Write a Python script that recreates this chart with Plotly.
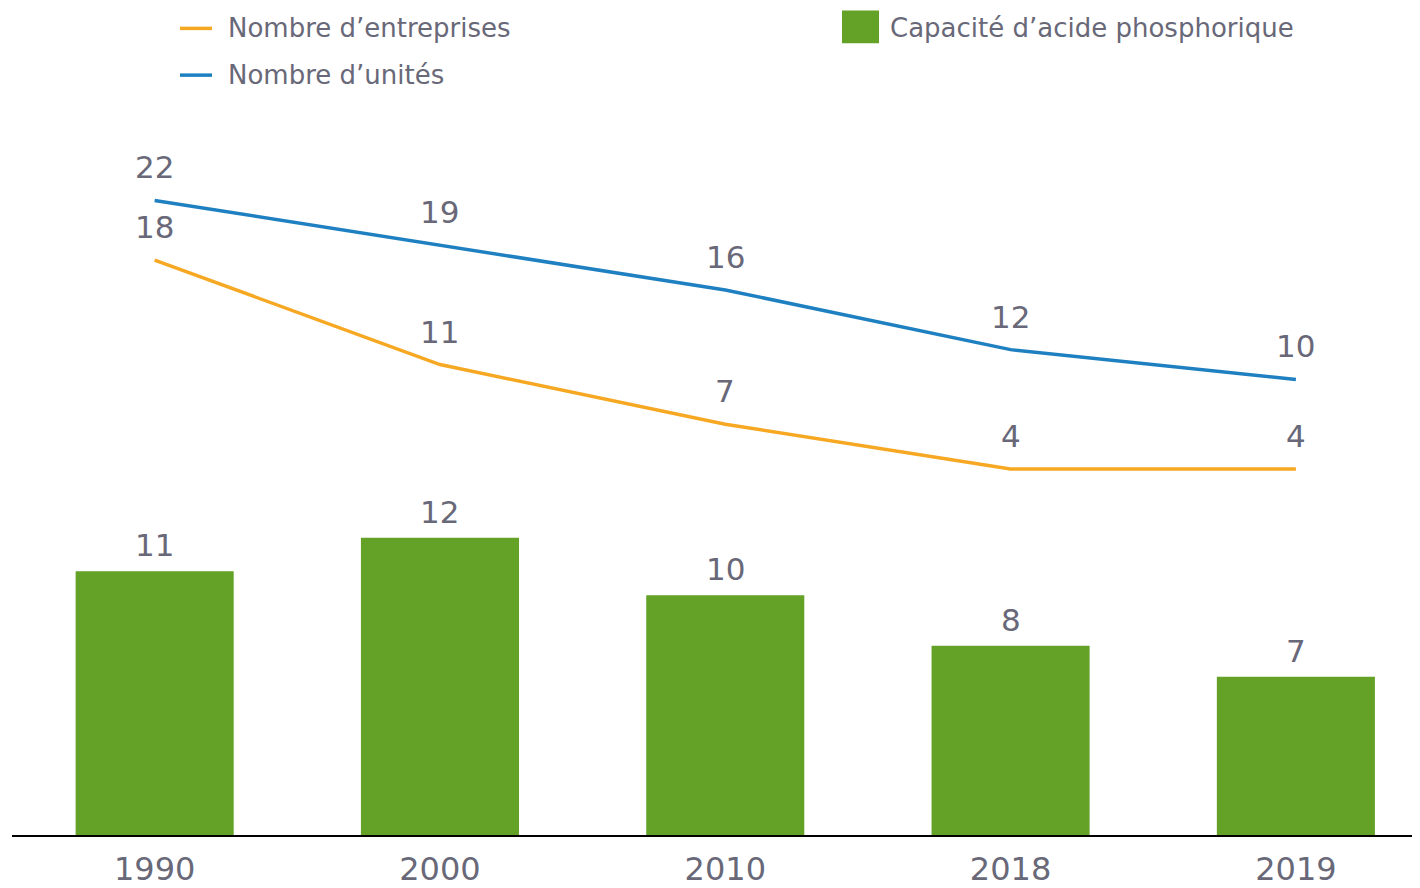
import plotly.graph_objects as go

years = ["1990", "2000", "2010", "2018", "2019"]
capacite = [11.0, 12.4, 10.0, 7.9, 6.6]
entreprises = [18, 11, 7, 4, 4]
unites = [22, 19, 16, 12, 10]

OFF = 8  # default page body margin
W, H = 1412, 880
ML, MR, MT, MB = 4, 0, 92, 49
PW, PH = W - ML - MR, H - MT - MB

TXT = "#686878"
GREEN = "#63a226"
ORANGE = "#f7a823"
BLUE = "#1f80c1"
FONT = "Verdana, DejaVu Sans, sans-serif"

Y_TOP, Y_BOT = 100, 839  # page pixels of the plot area


def px(x):
    return (x - OFF - ML) / PW


def py(y):
    return (Y_BOT - y) / (Y_BOT - Y_TOP)


fig = go.Figure()
fig.add_trace(go.Bar(x=years, y=capacite, marker=dict(color=GREEN, line=dict(width=0)),
                     name="Capacité d’acide phosphorique", showlegend=False))
fig.add_trace(go.Scatter(x=years, y=entreprises, mode="lines", yaxis="y2",
                         line=dict(color=ORANGE, width=3.5), name="Nombre d’entreprises", showlegend=False))
fig.add_trace(go.Scatter(x=years, y=unites, mode="lines", yaxis="y2",
                         line=dict(color=BLUE, width=3.5), name="Nombre d’unités", showlegend=False))

ann = []
for i, v in enumerate(capacite):
    ann.append(dict(x=i, y=v, xref="x", yref="y", text=f"{v:.0f}", showarrow=False,
                    yanchor="bottom", yshift=6, font=dict(size=31, color=TXT, family=FONT)))
for series in (entreprises, unites):
    for i, v in enumerate(series):
        ann.append(dict(x=i, y=v, xref="x", yref="y2", text=str(v), showarrow=False,
                        yanchor="bottom", yshift=13, font=dict(size=31, color=TXT, family=FONT)))

# legend
shapes = [
    dict(type="line", xref="paper", yref="paper", x0=px(180), x1=px(212), y0=py(28), y1=py(28),
         line=dict(color=ORANGE, width=3.5)),
    dict(type="line", xref="paper", yref="paper", x0=px(180), x1=px(212), y0=py(75), y1=py(75),
         line=dict(color=BLUE, width=3.5)),
    dict(type="rect", xref="paper", yref="paper", x0=px(842), x1=px(879), y0=py(43), y1=py(10),
         fillcolor=GREEN, line=dict(width=0)),
]
for text, x, y in [("Nombre d’entreprises", 226, 28), ("Nombre d’unités", 226, 75),
                   ("Capacité d’acide phosphorique", 888, 28)]:
    ann.append(dict(x=px(x), y=py(y), xref="paper", yref="paper", text=text, showarrow=False,
                    xanchor="left", yanchor="middle", font=dict(size=26, color=TXT, family=FONT)))

fig.update_layout(
    width=W, height=H,
    margin=dict(l=ML, r=MR, t=MT, b=MB),
    paper_bgcolor="white", plot_bgcolor="white",
    bargap=0.446,
    showlegend=False,
    font=dict(family=FONT, color=TXT),
    xaxis=dict(type="category", range=[-0.5, 4.435], showline=True, linecolor="black", linewidth=2,
               ticks="", showgrid=False, ticklabelstandoff=5,
               tickfont=dict(size=32, color=TXT, family=FONT)),
    yaxis=dict(range=[0, (Y_BOT - Y_TOP) / 24.1], visible=False, showgrid=False, zeroline=False),
    yaxis2=dict(range=[(531 - Y_BOT) / 15, (531 - Y_TOP) / 15], overlaying="y", visible=False,
                showgrid=False, zeroline=False),
    annotations=ann,
    shapes=shapes,
)

fig.write_html("out.html")
